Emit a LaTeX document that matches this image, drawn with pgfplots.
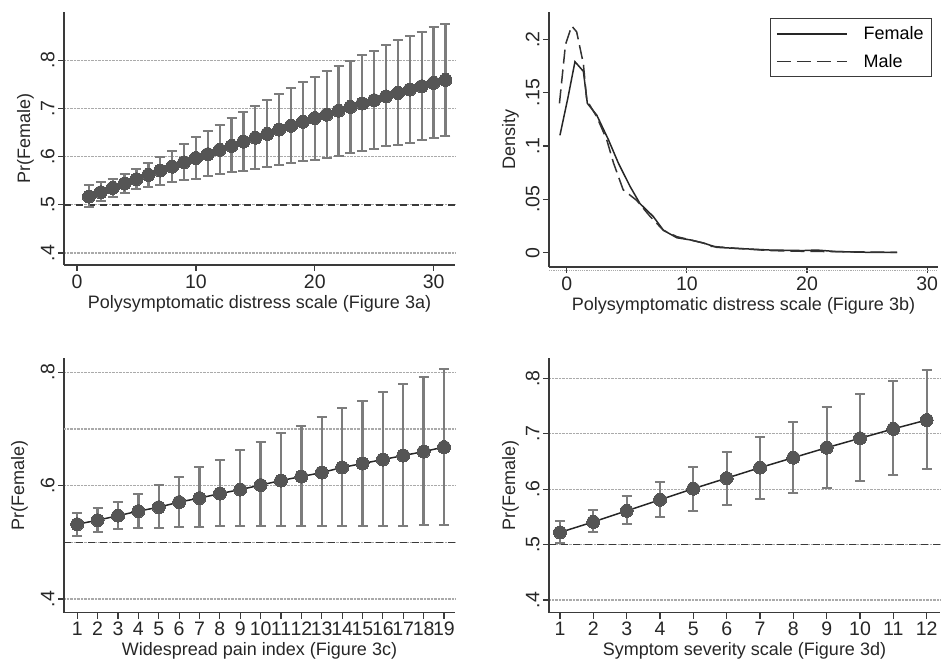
\documentclass[border=0pt]{standalone}
\usepackage{fontspec}
\setmainfont{Liberation Sans}
\usepackage{pgfplots}
\usepackage{pgfplotstable}
\pgfplotsset{compat=1.18}
\definecolor{mk}{HTML}{555555}
\definecolor{eb}{HTML}{7C7C7C}
\definecolor{gridc}{HTML}{AAAAAA}
\definecolor{axc}{HTML}{3A3A3A}

\pgfplotsset{
  statastyle/.style={
    scale only axis,
    anchor=south west,
    axis x line*=bottom, axis y line*=left,
    axis line style={line width=1.2pt, color=axc, -},
    tick align=outside,
    major tick length=6pt,
    tick style={line width=1.2pt, color=axc},
    ticklabel style={font=\fontsize{19.5}{22}\selectfont, color=black!85},
    label style={font=\fontsize{18}{21}\selectfont, color=black!85},
    yticklabel style={rotate=90, anchor=south},
    /pgf/number format/assume math mode=true,
    grid style={densely dotted, color=gridc, line width=1.2pt},
    clip=false,
  },
  ebars/.style={
    only marks, mark=*, mark size=0.01pt,
    mark options={draw=none, fill=none},
    forget plot,
    error bars/.cd, y dir=both, y explicit,
    error bar style={line width=2.3pt, color=eb, solid},
    error mark=-,
    error mark options={rotate=90, line width=2pt, color=eb, mark size=5pt, draw=eb},
  },
  pts/.style={
    color=black!85, line width=1.5pt,
    mark=*, mark size=6.5pt,
    mark options={fill=mk, draw=mk, line width=0pt},
  },
  refline/.style={dash pattern=on 7pt off 5pt, line width=1.6pt, color=axc},
}

% Figure 3a: x, mean, lower, upper
\pgfplotstableread{
x y lo hi
1 .517 .496 .541
2 .526 .508 .548
3 .535 .516 .554
4 .544 .525 .564
5 .553 .532 .574
6 .562 .537 .587
7 .571 .542 .599
8 .579 .547 .612
9 .588 .551 .626
10 .597 .554 .640
11 .605 .560 .654
12 .614 .564 .666
13 .622 .567 .679
14 .631 .570 .693
15 .639 .574 .705
16 .647 .578 .718
17 .656 .583 .729
18 .664 .586 .742
19 .672 .590 .754
20 .680 .593 .765
21 .687 .598 .777
22 .695 .602 .788
23 .703 .607 .799
24 .710 .611 .811
25 .717 .616 .820
26 .725 .621 .832
27 .732 .625 .841
28 .739 .629 .851
29 .746 .634 .859
30 .753 .638 .868
31 .759 .642 .876
}\tabA

% Figure 3c
\pgfplotstableread{
x y lo hi
1 .532 .512 .552
2 .539 .519 .561
3 .547 .523 .572
4 .555 .525 .586
5 .562 .526 .601
6 .571 .527 .616
7 .578 .527 .632
8 .586 .528 .646
9 .593 .528 .662
10 .601 .528 .677
11 .609 .528 .692
12 .616 .528 .706
13 .623 .528 .721
14 .632 .529 .736
15 .639 .529 .750
16 .646 .529 .765
17 .653 .529 .779
18 .660 .530 .792
19 .668 .530 .806
}\tabC

% Figure 3d
\pgfplotstableread{
x y lo hi
1 .522 .502 .543
2 .541 .522 .562
3 .561 .537 .587
4 .581 .549 .613
5 .601 .561 .641
6 .620 .572 .668
7 .639 .583 .695
8 .657 .593 .722
9 .675 .603 .748
10 .692 .614 .772
11 .709 .625 .795
12 .725 .636 .816
}\tabD

% Figure 3b densities
\pgfplotstableread{
x y
-0.56 .110
0.10 .145
0.69 .179
1.39 .170
1.72 .140
2.5 .129
3.47 .106
4.3 .084
5.28 .062
6.1 .046
7.2 .034
8.05 .021
9.17 .014
10.28 .012
11.4 .009
12.5 .005
14.2 .004
16.9 .0025
19.7 .002
20.8 .0025
22.5 .001
25.3 .0003
27.5 .0003
}\tabFemale

\pgfplotstableread{
x y
-0.6 .140
-0.1 .195
0.42 .2125
0.83 .207
1.39 .177
1.67 .143
2.5 .1275
3.33 .106
3.9 .084
4.7 .059
5.83 .049
6.94 .034
8.05 .021
9.17 .015
10.3 .012
11.4 .009
12 .006
14.2 .004
16.9 .002
19.7 .0013
22.5 .001
27.5 .0003
}\tabMale

\begin{document}
\begin{tikzpicture}[x=1pt,y=1pt]
\path[use as bounding box] (0,0) rectangle (941,663);

% ---- Figure 3a ----
\begin{axis}[statastyle, at={(64pt,398pt)}, width=391pt, height=253pt,
  xmin=-1.1, xmax=31.8, ymin=0.375, ymax=0.9,
  xtick={0,10,20,30},
  ytick={.4,.5,.6,.7,.8}, yticklabels={.4,.5,.6,.7,.8},
  ymajorgrids,
  xlabel={Polysymptomatic distress scale (Figure 3a)},
  ylabel={Pr(Female)}]
  \addplot[refline] coordinates {(-1.1,0.5) (31.8,0.5)};
  \addplot[ebars] table[x=x, y=y,
    y error plus expr=\thisrow{hi}-\thisrow{y},
    y error minus expr=\thisrow{y}-\thisrow{lo}] {\tabA};
  \addplot[pts] table[x=x, y=y] {\tabA};
\end{axis}

% ---- Figure 3b ----
\begin{axis}[statastyle, at={(549pt,396pt)}, width=389pt, height=255pt,
  xmin=-1.47, xmax=30.9, ymin=-0.0134, ymax=0.2256,
  xtick={0,10,20,30},
  ytick={0,.05,.1,.15,.2}, yticklabels={0,.05,.1,.15,.2},
  xlabel={Polysymptomatic distress scale (Figure 3b)},
  ylabel={Density},
  legend style={at={(0.985,0.975)}, anchor=north east,
    draw=axc, line width=1pt, font=\fontsize{18}{21}\selectfont,
    inner xsep=6pt, inner ysep=6pt, row sep=9pt,
    /tikz/every odd column/.append style={column sep=14pt}},
  legend cell align=left,
  legend image code/.code={\draw[#1] (0pt,0pt) -- (70pt,0pt);}]
  \addplot[densely dotted, color=gridc, line width=1.2pt, forget plot] coordinates {(-1.47,-0.0165) (30.9,-0.0165)};
  \addplot[color=black!85, line width=1.5pt] table[x=x, y=y] {\tabFemale};
  \addlegendentry{Female}
  \addplot[color=black!80, line width=1.5pt, dash pattern=on 14pt off 6pt] table[x=x, y=y] {\tabMale};
  \addlegendentry{Male}
\end{axis}

% ---- Figure 3c ----
\begin{axis}[statastyle, at={(64pt,50.3pt)}, width=391pt, height=254.7pt,
  xmin=0.35, xmax=19.54, ymin=0.376, ymax=0.825,
  xtick={1,2,...,19},
  ytick={.4,.6,.8}, yticklabels={.4,.6,.8},
  extra y ticks={.5,.7}, extra y tick labels={},
  extra y tick style={major tick length=0pt, ymajorgrids=true},
  ymajorgrids,
  xlabel={Widespread pain index (Figure 3c)},
  ylabel={Pr(Female)}]
  \addplot[refline] coordinates {(0.35,0.5) (19.54,0.5)};
  \addplot[ebars] table[x=x, y=y,
    y error plus expr=\thisrow{hi}-\thisrow{y},
    y error minus expr=\thisrow{y}-\thisrow{lo}] {\tabC};
  \addplot[pts] table[x=x, y=y] {\tabC};
\end{axis}

% ---- Figure 3d ----
\begin{axis}[statastyle, at={(549pt,50.3pt)}, width=391pt, height=254.7pt,
  xmin=0.67, xmax=12.4, ymin=0.377, ymax=0.837,
  xtick={1,2,...,12},
  ytick={.4,.5,.6,.7,.8}, yticklabels={.4,.5,.6,.7,.8},
  ymajorgrids,
  xlabel={Symptom severity scale (Figure 3d)},
  ylabel={Pr(Female)}]
  \addplot[refline] coordinates {(0.67,0.5) (12.4,0.5)};
  \addplot[ebars] table[x=x, y=y,
    y error plus expr=\thisrow{hi}-\thisrow{y},
    y error minus expr=\thisrow{y}-\thisrow{lo}] {\tabD};
  \addplot[pts] table[x=x, y=y] {\tabD};
\end{axis}
\end{tikzpicture}
\end{document}
